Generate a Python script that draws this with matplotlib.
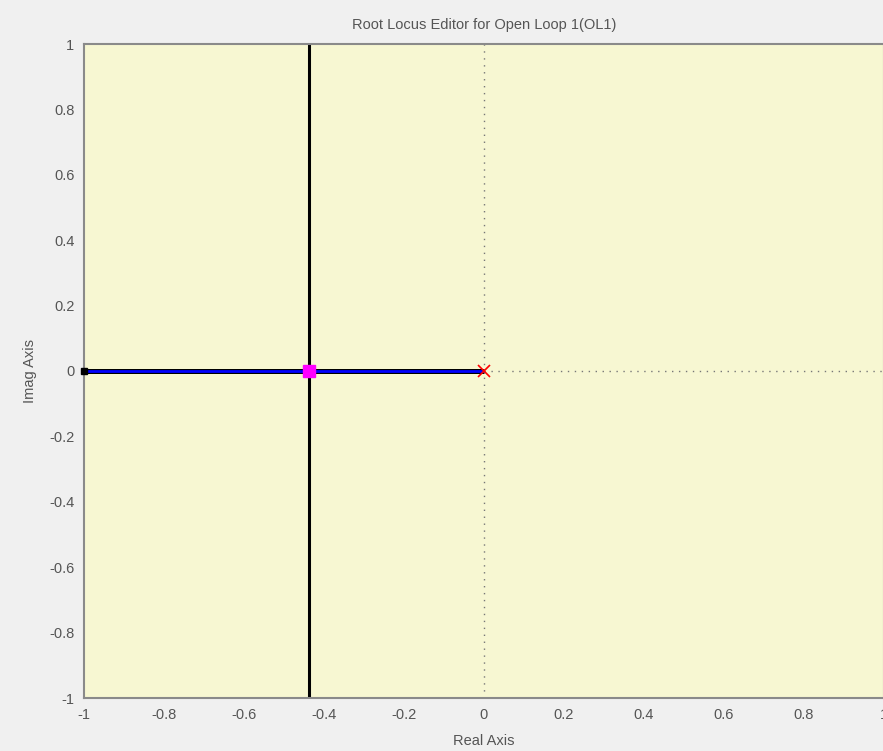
import matplotlib
matplotlib.use("Agg")
import matplotlib.pyplot as plt
import numpy as np

plt.rcParams['font.family'] = ['Liberation Sans', 'DejaVu Sans']

# Root locus data
locus_re = [-1.0, 0.0]            # branch on the real axis
locus_im = [0.0, 0.0]
pole_re = [0.0]                   # open loop pole
pole_im = [0.0]
cl_pole_re = [-0.4375]            # closed loop pole (current gain)
cl_pole_im = [0.0]
end_re = [-1.0]                   # branch end marker
end_im = [0.0]
vline_x = -0.4375                 # vertical design line

xticks = [-1, -0.8, -0.6, -0.4, -0.2, 0, 0.2, 0.4, 0.6, 0.8, 1]
yticks = [-1, -0.8, -0.6, -0.4, -0.2, 0, 0.2, 0.4, 0.6, 0.8, 1]

fig = plt.figure(figsize=(8.83, 7.51), dpi=100, facecolor="#f0f0f0")
ax = fig.add_axes([84 / 883, 53 / 751, 800 / 883, 654 / 751])
ax.set_facecolor("#f7f7d2")

# dotted axis lines through origin
ax.axvline(0, color="#777777", linestyle=(0, (1, 4)), linewidth=1, zorder=1)
ax.plot([0, 1], [0, 0], color="#777777", linestyle=(0, (1, 4)), linewidth=1, zorder=1)

ax.axvline(vline_x, color="black", linewidth=2.2, zorder=2)
ax.plot(locus_re, locus_im, color="black", linewidth=3.6, zorder=3, solid_capstyle="butt")
ax.plot(locus_re, locus_im, color="#0000ff", linewidth=2.0, zorder=4, solid_capstyle="butt")
ax.plot(end_re, end_im, "s", color="black", markersize=5, zorder=5, clip_on=False)
ax.plot(pole_re, pole_im, "x", color="red", markersize=8, markeredgewidth=1.2, zorder=5)
ax.plot(cl_pole_re, cl_pole_im, "s", color="#ff00ff", markersize=8, zorder=6)

ax.set_xlim(-1, 1)
ax.set_ylim(-1, 1)
ax.set_xticks(xticks)
ax.set_yticks(yticks)
ax.set_xticklabels([f"{t:g}" for t in xticks])
ax.set_yticklabels([f"{t:g}" for t in yticks])
ax.tick_params(direction="in", length=0, colors="#555555", labelsize=10.5, pad=7)
for s in ax.spines.values():
    s.set_color("#8a8a8a")
    s.set_linewidth(1.5)

ax.set_xlabel("Real Axis", color="#555555", fontsize=10.5, labelpad=9)
ax.set_ylabel("Imag Axis", color="#555555", fontsize=10.5, labelpad=9)
ax.set_title("Root Locus Editor for Open Loop 1(OL1)", color="#555555", fontsize=10.5, pad=11)

fig.savefig("out.png", dpi=100, facecolor=fig.get_facecolor())
